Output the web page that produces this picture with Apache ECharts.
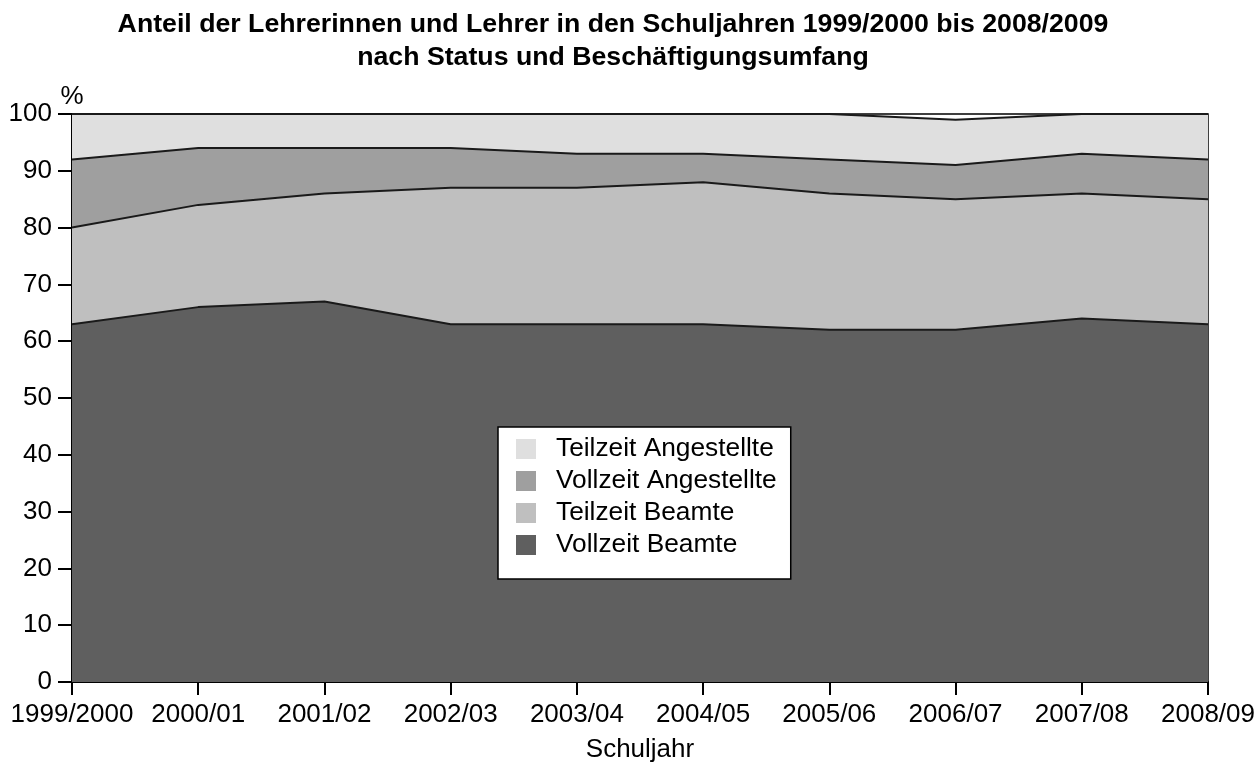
<!DOCTYPE html>
<html>
<head>
<meta charset="utf-8">
<script src="https://cdn.jsdelivr.net/npm/echarts@6/dist/echarts.min.js"></script>
<style>
	html, body { margin: 0; padding: 0; background: #fff; }
	#chart { width: 1260px; height: 762px; }
</style>
</head>
<body>
<div id="chart"></div>
<script>
// Schuljahre (x-Achse)
const years = ['1999/2000', '2000/01', '2001/02', '2002/03', '2003/04', '2004/05', '2005/06', '2006/07', '2007/08', '2008/09']
// Anteile in %, von unten nach oben gestapelt
const vollzeitBeamte = [63, 66, 67, 63, 63, 63, 62, 62, 64, 63]
const teilzeitBeamte = [17, 18, 19, 24, 24, 25, 24, 23, 22, 22]
const vollzeitAngestellte = [12, 10, 8, 7, 6, 5, 6, 6, 7, 7]
const teilzeitAngestellte = [8, 6, 6, 6, 7, 7, 8, 8, 7, 8]
const yTicks = [0, 10, 20, 30, 40, 50, 60, 70, 80, 90, 100]

const font = "'Liberation Sans', Arial, sans-serif"
const lineColor = '#1a1a1a'

const layers = [
	{ name: 'Vollzeit Beamte', data: vollzeitBeamte, color: '#5f5f5f' },
	{ name: 'Teilzeit Beamte', data: teilzeitBeamte, color: '#bfbfbf' },
	{ name: 'Vollzeit Angestellte', data: vollzeitAngestellte, color: '#9f9f9f' },
	{ name: 'Teilzeit Angestellte', data: teilzeitAngestellte, color: '#dfdfdf' },
]

let chart = echarts.init(document.getElementById('chart'), null, { renderer: 'canvas' })
let option = {
	backgroundColor: '#fff',
	animation: false,
	textStyle: { fontFamily: font },
	title: {
		text: 'Anteil der Lehrerinnen und Lehrer in den Schuljahren 1999/2000 bis 2008/2009\nnach Status und Beschäftigungsumfang',
		left: 613,
		top: 8,
		padding: 0,
		textAlign: 'center',
		textStyle: {
			fontFamily: font,
			fontSize: 26.7,
			fontWeight: 'bold',
			color: '#000',
			lineHeight: 33,
		},
	},
	legend: {
		orient: 'vertical',
		left: 498,
		top: 427,
		padding: [9, 14, 21, 18],
		itemGap: 6,
		itemWidth: 20,
		itemHeight: 20,
		icon: 'rect',
		backgroundColor: '#fff',
		borderColor: '#000',
		borderWidth: 1.5,
		borderRadius: 0,
		selectedMode: false,
		itemStyle: { borderWidth: 0 },
		textStyle: {
			fontFamily: font,
			fontSize: 26.3,
			color: '#000',
			padding: [0, 0, 0, 15],
		},
		// Reihenfolge wie im Original: oberste Schicht zuerst
		data: layers.slice().reverse().map(l => ({ name: l.name, itemStyle: { color: l.color } })),
	},
	grid: {
		left: 72,
		right: 52,
		top: 114,
		bottom: 80,
		outerBoundsMode: 'none',
		containLabel: false,
		show: true,
		borderColor: '#000',
		borderWidth: 1.5,
		backgroundColor: 'transparent',
	},
	xAxis: {
		type: 'category',
		data: years,
		boundaryGap: false,
		name: 'Schuljahr',
		nameLocation: 'middle',
		nameGap: 55,
		nameTextStyle: { fontFamily: font, fontSize: 26, color: '#000' },
		axisLine: { lineStyle: { color: '#000', width: 2 } },
		axisTick: { show: true, interval: 0, length: 13, lineStyle: { color: '#000', width: 2 } },
		axisLabel: { interval: 0, margin: 20, fontFamily: font, fontSize: 26, color: '#000' },
		splitLine: { show: false },
	},
	yAxis: {
		type: 'value',
		min: yTicks[0],
		max: yTicks[yTicks.length - 1],
		interval: yTicks[1] - yTicks[0],
		name: '%',
		nameLocation: 'end',
		nameGap: 4,
		nameTextStyle: { fontFamily: font, fontSize: 26, color: '#000' },
		axisLine: { show: true, lineStyle: { color: '#000', width: 2 } },
		axisTick: { show: true, length: 14, lineStyle: { color: '#000', width: 2 } },
		axisLabel: { margin: 20, fontFamily: font, fontSize: 26, color: '#000' },
		splitLine: { show: false },
	},
	series: layers.map(l => ({
		name: l.name,
		type: 'line',
		stack: 'anteil',
		data: l.data,
		symbol: 'none',
		lineStyle: { color: lineColor, width: 2 },
		itemStyle: { color: l.color },
		areaStyle: { color: l.color, opacity: 1 },
		emphasis: { disabled: true },
	})),
}
chart.setOption(option)
</script>
</body>
</html>
